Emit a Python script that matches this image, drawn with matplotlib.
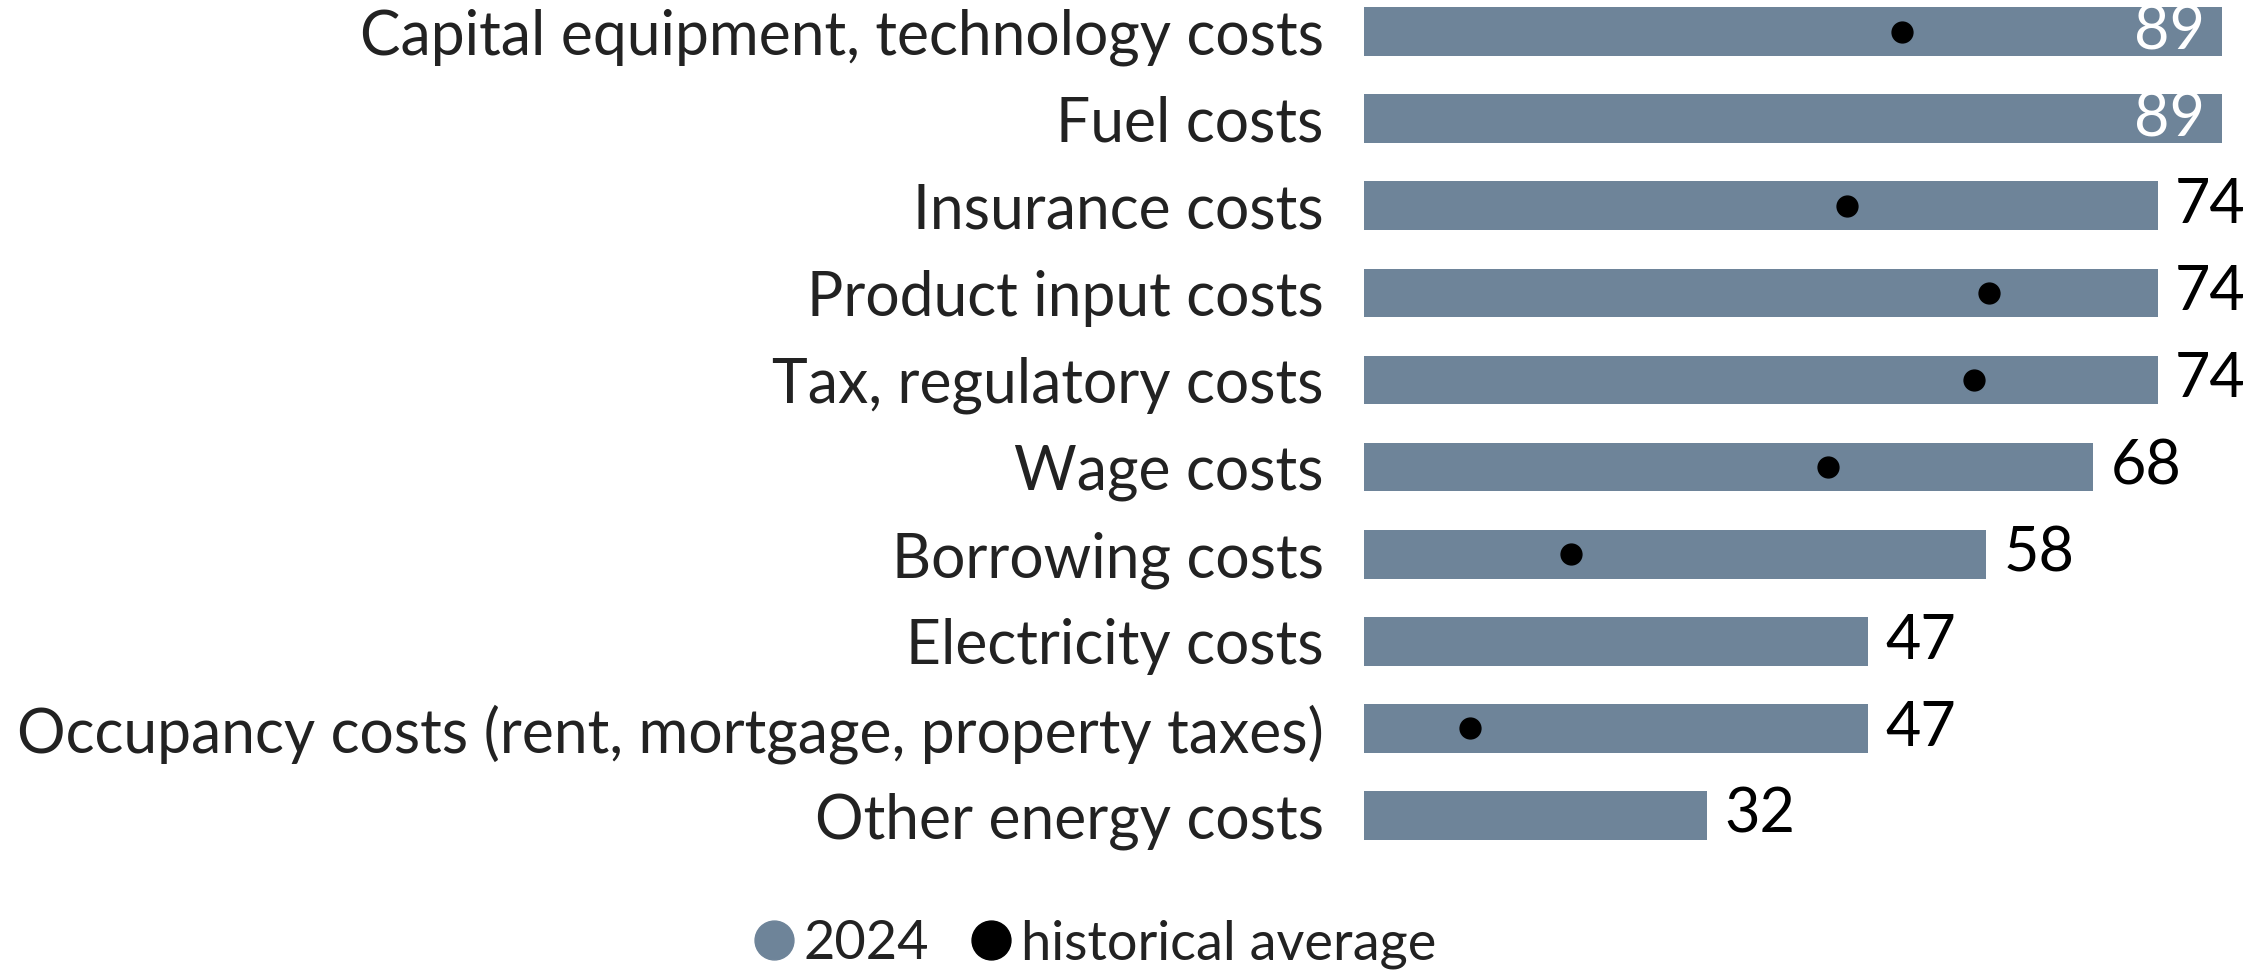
import matplotlib
matplotlib.use("Agg")
import matplotlib.pyplot as plt
from matplotlib.lines import Line2D
import numpy as np

categories = [
    "Capital equipment, technology costs",
    "Fuel costs",
    "Insurance costs",
    "Product input costs",
    "Tax, regulatory costs",
    "Wage costs",
    "Borrowing costs",
    "Electricity costs",
    "Occupancy costs (rent, mortgage, property taxes)",
    "Other energy costs",
]
values_2024 = [89, 89, 74, 74, 74, 68, 58, 47, 47, 32]
hist_avg = [50.2, np.nan, 45.0, 58.3, 56.9, 43.3, 19.3, np.nan, 9.9, np.nan]

BAR = "#6E8499"
TXT = "#222222"
plt.rcParams['font.family'] = ['Lato', 'DejaVu Sans']

W, H = 2254, 977
fig = plt.figure(figsize=(W / 100, H / 100), dpi=100)
left_px, right_px = 1364, 2222
bottom_px = 870
ax = fig.add_axes([left_px / W, 1 - bottom_px / H, (right_px - left_px) / W, bottom_px / H])

y = np.arange(len(categories))
xmax = 80
ax.barh(y, values_2024, height=0.56, color=BAR, zorder=1)
ax.plot(hist_avg, y, 'o', color='black', ms=15, zorder=3, linestyle='none')

for yi, v in zip(y, values_2024):
    if v > xmax:
        ax.text(xmax - 1.6, yi, f"{v}", ha='right', va='center', color='white', fontsize=44)
    else:
        ax.text(v + 1.6, yi, f"{v}", ha='left', va='center', color='black', fontsize=44)

ax.set_xlim(0, xmax)
ax.set_ylim(9.626, -0.363)
ax.set_yticks(y)
ax.set_yticklabels(categories, fontsize=43.7, color=TXT)
ax.tick_params(axis='y', length=0, pad=29)
ax.set_xticks([])
for s in ax.spines.values():
    s.set_visible(False)

handles = [
    Line2D([], [], marker='o', color=BAR, linestyle='none', ms=28),
    Line2D([], [], marker='o', color='black', linestyle='none', ms=28),
]
fig.legend(handles, ["2024", "historical average"], loc='center', bbox_to_anchor=(1093 / W, 1 - 944 / H),
           ncol=2, frameon=False, fontsize=39, handletextpad=0.1, columnspacing=0.7,
           labelcolor=TXT, handlelength=0.9)

fig.savefig("out.png", dpi=100)
